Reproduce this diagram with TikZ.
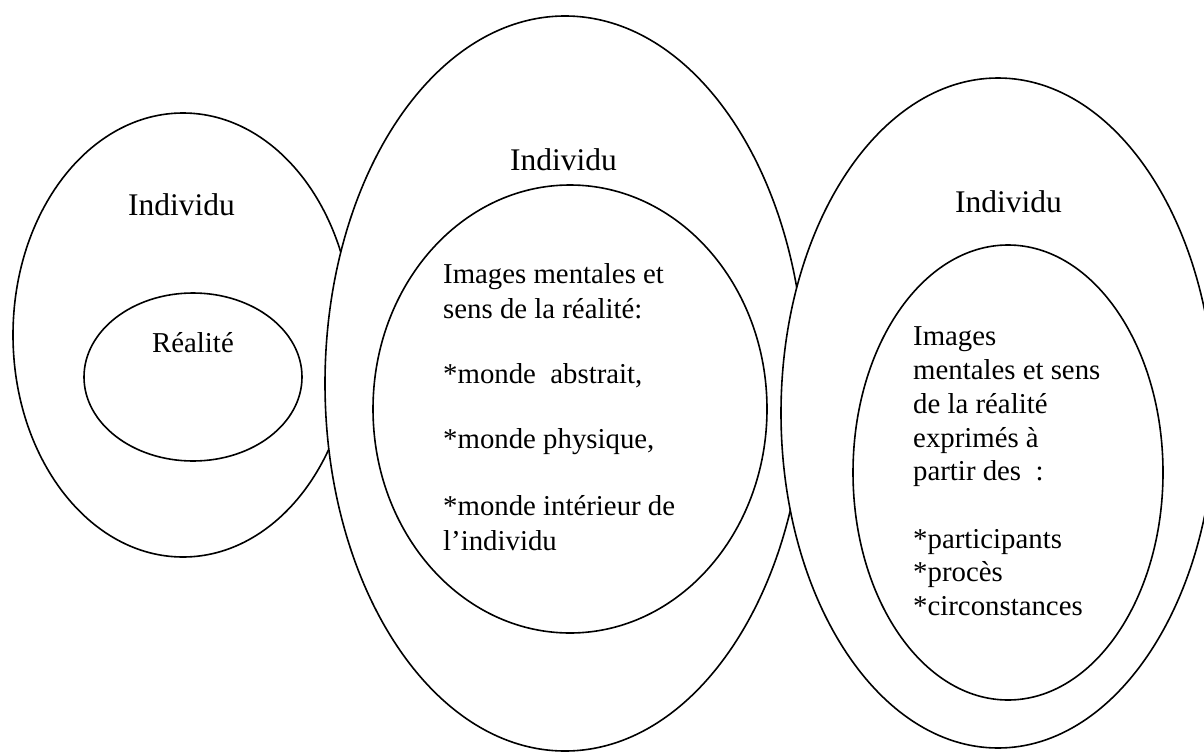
\documentclass[tikz,border=0pt]{standalone}
\usepackage{fontspec}
\setmainfont{Liberation Serif}
\begin{document}
\begin{tikzpicture}[x=1pt,y=-1pt,
  ring/.style={draw=black, line width=1.6pt, fill=white},
  title/.style={anchor=base west, inner sep=0pt, font=\fontsize{31.5}{36}\selectfont},
  body/.style={anchor=base west, inner sep=0pt, font=\fontsize{28.8}{34.5}\selectfont}]
\useasboundingbox (0,0) rectangle (1204,752);
\clip (0,0) rectangle (1204,752);
% left
\draw[ring] (183,335) ellipse [x radius=170, y radius=222];
\node[title] (t1) at (128,215) {Individu};
\draw[ring] (193,377) ellipse [x radius=109, y radius=84];
\node[body] (r1) at (152,352) {Réalité};
% middle
\draw[ring] (565,383.5) ellipse [x radius=240, y radius=367.5];
\node[title] (t2) at (510,170) {Individu};
\draw[ring] (570,409) ellipse [x radius=197, y radius=224];
\node[body] (m1) at (443,283) {Images mentales et};
\node[body] (m2) at (443,318) {sens de la réalité:};
\node[body] (m3) at (443,383) {*monde\ \ abstrait,};
\node[body] (m4) at (443,448) {*monde physique,};
\node[body] (m5) at (443,515) {*monde intérieur de};
\node[body] (m6) at (443,550) {l’individu};
% right
\draw[ring] (998,413) ellipse [x radius=217, y radius=335];
\node[title] (t3) at (955,212) {Individu};
\draw[ring] (1008,472.5) ellipse [x radius=155, y radius=227.5];
\node[body] (q1) at (913,345) {Images};
\node[body] (q2) at (913,379) {mentales et sens};
\node[body] (q3) at (913,413) {de la réalité};
\node[body] (q4) at (913,447) {exprimés à};
\node[body] (q5) at (913,480) {partir des\ \ :};
\node[body] (q6) at (913,548) {*participants};
\node[body] (q7) at (913,581) {*procès};
\node[body] (q8) at (913,615) {*circonstances};
\end{tikzpicture}
\end{document}
